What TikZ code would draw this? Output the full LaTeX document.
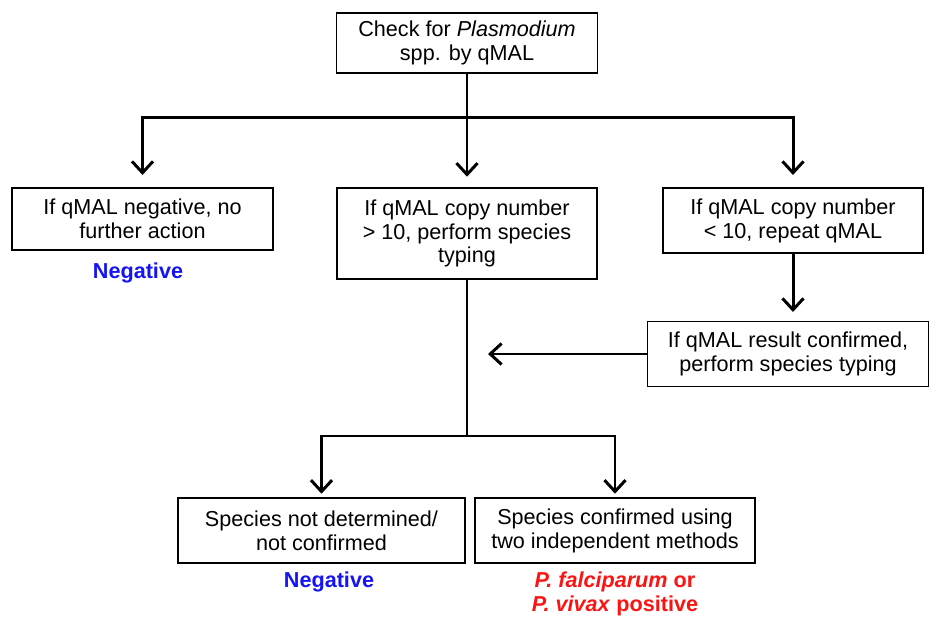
\documentclass[tikz,border=0pt]{standalone}
\usepackage{fontspec}
\setmainfont{Liberation Sans}
\usetikzlibrary{arrows.meta}
\definecolor{negblue}{RGB}{20, 20, 245}
\definecolor{posred}{RGB}{250, 20, 20}

\begin{document}
\begin{tikzpicture}[x=0.02cm, y=-0.02cm, >={Straight Barb[length=6.5pt, width=12pt, line width=1.7pt]},
    box/.style={draw, line width=0.85pt, align=center, inner sep=2pt,
      font=\fontsize{12.3}{13.6}\selectfont},
    link/.style={line width=1.7pt},
    result/.style={font=\fontsize{12.3}{13.6}\selectfont\bfseries, align=center}]
    \useasboundingbox (0, 0) rectangle (930, 617);
    % boxes
    \node[box, minimum width=5.22cm, minimum height=1.2cm] (check) at (467, 43) {Check for \textit{Plasmodium}\\spp. by qMAL};
    \node[box, minimum width=5.22cm, minimum height=1.24cm] (neg) at (142.5, 219) {If qMAL negative, no\\further action};
    \node[box, minimum width=5.2cm, minimum height=1.82cm] (high) at (467, 233.5) {If qMAL copy number\\> 10, perform species\\typing};
    \node[box, minimum width=5.2cm, minimum height=1.3cm] (low) at (793, 220.5) {If qMAL copy number\\< 10, repeat qMAL};
    \node[box, minimum width=5.62cm, minimum height=1.3cm] (conf) at (788, 354) {If qMAL result confirmed,\\perform species typing};
    \node[box, minimum width=5.74cm, minimum height=1.3cm] (undet) at (321.5, 530.5) {Species not determined/\\not confirmed};
    \node[box, minimum width=5.6cm, minimum height=1.3cm] (twoway) at (615, 530.5) {Species confirmed using\\two independent methods};
    % results
    \node[result, text=negblue] (negA) at (138, 273) {Negative};
    \node[result, text=negblue] (negB) at (329, 582) {Negative};
    \node[result, text=posred] (pos) at (615, 594) {\textit{P. falciparum} or\\\textit{P. vivax} positive};
    % connectors
    \coordinate (split) at (467, 118);
    \coordinate (join) at (467, 436);
    \coordinate (back) at (488, 354);
    \draw[link] (check.south) -- (split);
    \draw[link, ->, shorten >=7pt] (split) -| (neg.north);
    \draw[link, ->, shorten >=6pt] (split) -- (high.north);
    \draw[link, ->, shorten >=7pt] (split) -| (low.north);
    \draw[link, ->, shorten >=5pt] (low.south) -- (low.south |- conf.north);
    \draw[link, ->] (conf.west) -- (back);
    \draw[link] (high.south) -- (join);
    \draw[link, ->, shorten >=2pt] (join) -| (undet.north);
    \draw[link, ->, shorten >=2pt] (join) -| (twoway.north);
  \end{tikzpicture}
\end{document}
